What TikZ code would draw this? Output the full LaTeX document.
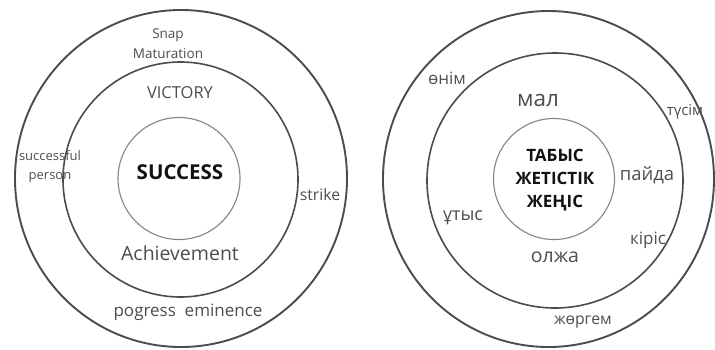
\documentclass[tikz,border=0pt]{standalone}
\usepackage{fontspec}
\setmainfont{Open Sans}
\definecolor{ringcol}{HTML}{4C4C4C}
\definecolor{corecol}{HTML}{858585}
\definecolor{labcol}{HTML}{4E4E4E}
\definecolor{headcol}{HTML}{121212}
\begin{document}
\begin{tikzpicture}[x=1pt,y=-1pt,
  outerring/.style={draw=ringcol,line width=1.9pt},
  midring/.style={draw=ringcol,line width=1.6pt},
  corering/.style={draw=corecol,line width=1.1pt},
  lab/.style={text=labcol,inner sep=0pt,anchor=center,align=center},
  head/.style={text=headcol,inner sep=0pt,anchor=center,align=center,font=\bfseries}]
\useasboundingbox (0,0) rectangle (715,349);
\fill[white] (0,0) rectangle (715,349);

% --- English rings ---
\draw[outerring] (181,178.5) ellipse [x radius=166,y radius=168.5];
\draw[midring] (180.5,179.5) circle [radius=117.5];
\draw[corering] (179,178.5) circle [radius=61];

\node[head,font=\bfseries\fontsize{20.5}{24}\selectfont] (success) at (180,172) {SUCCESS};
\node[lab,font=\fontsize{16.5}{20}\selectfont] (victory) at (180,93) {VICTORY};
\node[lab,font=\fontsize{19.5}{23}\selectfont] (achieve) at (180,253) {Achievement};
\node[lab,font=\fontsize{13.5}{20.5}\selectfont] (snap) at (168,43.5) {Snap\\Maturation};
\node[lab,font=\fontsize{13}{19}\selectfont] (person) at (50,166.5) {successful\\person};
\node[lab,font=\fontsize{15.8}{19}\selectfont] (strike) at (320,195) {strike};
\node[lab,font=\fontsize{17}{20}\selectfont] (progress) at (188,312) {pogress\ \ eminence};

% --- Kazakh rings ---
\draw[outerring] (548.5,179) ellipse [x radius=165.5,y radius=168];
\draw[midring] (555,180.5) ellipse [x radius=128,y radius=127.5];
\draw[corering] (554,179) circle [radius=60.5];

\node[head,font=\bfseries\fontsize{17}{23}\selectfont] (tabys) at (555,180) {ТАБЫС\\ЖЕТІСТІК\\ЖЕҢІС};
\node[lab,font=\fontsize{22.5}{26}\selectfont] (mal) at (538,100) {мал};
\node[lab,font=\fontsize{19.5}{22}\selectfont] (olzha) at (555,257) {олжа};
\node[lab,font=\fontsize{18.5}{22}\selectfont] (paida) at (647,175) {пайда};
\node[lab,font=\fontsize{17}{20}\selectfont] (kiris) at (648,240) {кіріс};
\node[lab,font=\fontsize{15}{18}\selectfont] (tusim) at (685,112) {түсім};
\node[lab,font=\fontsize{17}{20}\selectfont] (onim) at (447,78) {өнім};
\node[lab,font=\fontsize{18}{21}\selectfont] (utys) at (463,218) {ұтыс};
\node[lab,font=\fontsize{15.8}{19}\selectfont] (zhorgem) at (583,322) {жөргем};
\end{tikzpicture}
\end{document}
